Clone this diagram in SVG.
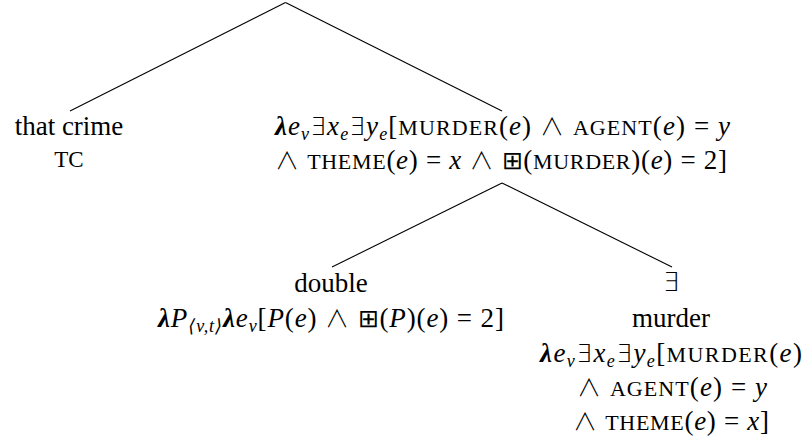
<svg xmlns="http://www.w3.org/2000/svg" width="809" height="443" viewBox="0 0 809 443">
<style>
text{font-family:"Liberation Serif","DejaVu Serif",serif;font-size:27px;fill:#000}
.i{font-style:italic}
.b{font-weight:bold;font-style:italic}
.sc{font-size:22px}
.sub{font-size:18px;font-style:italic}
.c{text-anchor:middle}
.op{font-family:"DejaVu Sans ExtraLight","DejaVu Sans",sans-serif;font-weight:200;font-size:25px}
.and{font-family:"Noto Sans CJK SC","DejaVu Sans",sans-serif;font-weight:300;font-size:24px}
line{stroke:#000;stroke-width:1.1}
</style>
<rect width="809" height="443" fill="#fff"/>
<g id="connectors">
<line x1="285.5" y1="2.5" x2="70" y2="111"/>
<line x1="285.5" y1="2.5" x2="502" y2="111"/>
<line x1="502" y1="183" x2="332" y2="267"/>
<line x1="502" y1="183" x2="672" y2="267"/>
</g>
<g id="node-that-crime">
<text x="69" y="135" class="c">that crime</text>
<text x="69" y="167" class="c sc" style="font-size:23px">TC</text>
</g>
<g id="node-vp">
<text x="275" y="135" textLength="455"><tspan class="b">λ</tspan><tspan class="i">e</tspan><tspan class="sub" dy="5">v</tspan><tspan class="op" dy="-5">∃</tspan><tspan class="i">x</tspan><tspan class="sub" dy="5">e</tspan><tspan class="op" dy="-5">∃</tspan><tspan class="i">y</tspan><tspan class="sub" dy="5">e</tspan><tspan dy="-5">[</tspan><tspan class="sc">MURDER</tspan>(<tspan class="i">e</tspan>) <tspan class="and">∧</tspan> <tspan class="sc">AGENT</tspan>(<tspan class="i">e</tspan>) = <tspan class="i">y</tspan></text>
<text x="275" y="169" textLength="452"><tspan class="and">∧</tspan> <tspan class="sc">THEME</tspan>(<tspan class="i">e</tspan>) = <tspan class="i">x</tspan> <tspan class="and">∧</tspan> <tspan class="op">⊞</tspan>(<tspan class="sc">MURDER</tspan>)(<tspan class="i">e</tspan>) = 2]</text>
</g>
<g id="node-double">
<text x="331" y="292" class="c">double</text>
<text x="331" y="327" class="c" textLength="346"><tspan class="b">λ</tspan><tspan class="i">P</tspan><tspan class="sub" dy="5">⟨v,t⟩</tspan><tspan class="b" dy="-5">λ</tspan><tspan class="i">e</tspan><tspan class="sub" dy="5">v</tspan><tspan dy="-5">[</tspan><tspan class="i">P</tspan>(<tspan class="i">e</tspan>) <tspan class="and">∧</tspan> <tspan class="op">⊞</tspan>(<tspan class="i">P</tspan>)(<tspan class="i">e</tspan>) = 2]</text>
</g>
<g id="node-exists-murder">
<text x="671" y="291" class="c op" style="font-size:26px">∃</text>
<text x="671" y="327" class="c">murder</text>
<text x="671" y="362" class="c" textLength="262"><tspan class="b">λ</tspan><tspan class="i">e</tspan><tspan class="sub" dy="5">v</tspan><tspan class="op" dy="-5">∃</tspan><tspan class="i">x</tspan><tspan class="sub" dy="5">e</tspan><tspan class="op" dy="-5">∃</tspan><tspan class="i">y</tspan><tspan class="sub" dy="5">e</tspan><tspan dy="-5">[</tspan><tspan class="sc">MURDER</tspan>(<tspan class="i">e</tspan>)</text>
<text x="672" y="396" class="c" textLength="190"><tspan class="and">∧</tspan> <tspan class="sc">AGENT</tspan>(<tspan class="i">e</tspan>) = <tspan class="i">y</tspan></text>
<text x="671" y="430" class="c" textLength="196"><tspan class="and">∧</tspan> <tspan class="sc">THEME</tspan>(<tspan class="i">e</tspan>) = <tspan class="i">x</tspan>]</text>
</g>
</svg>
